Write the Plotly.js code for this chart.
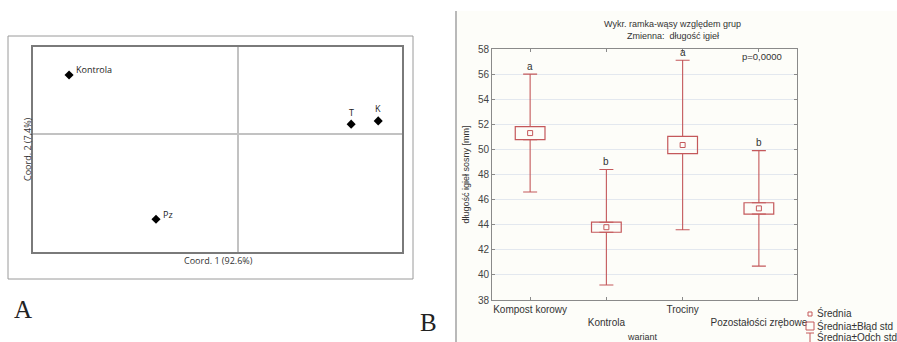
<!DOCTYPE html>
<html>
<head>
<meta charset="utf-8">
<script src="https://cdn.plot.ly/plotly-3.0.1.min.js"></script>
<style>html,body{margin:0;padding:0;background:#fff;}#chart{width:897px;height:342px;}</style>
</head>
<body>
<div id="chart"></div>
<script>
// ---- Panel A data (PCoA) ----
const pcoaLabels = ['Kontrola', 'Pz', 'T', 'K'];
const pcoaX = [-0.206, -0.100, 0.138, 0.171];
const pcoaY = [0.072, -0.104, 0.012, 0.016];
const pcoaXTitle = 'Coord. 1 (92.6%)';
const pcoaYTitle = 'Coord. 2 (7,4%)';

// ---- Panel B data (mean / SE / SD) ----
const groups = ['Kompost korowy', 'Kontrola', 'Trociny', 'Pozostałości zrębowe'];
const means = [51.3, 43.8, 50.35, 45.3];
const stdErr = [0.52, 0.4, 0.68, 0.45];
const stdDev = [4.7, 4.6, 6.75, 4.6];
const letters = ['a', 'b', 'a', 'b'];
const yTicksB = [38, 40, 42, 44, 46, 48, 50, 52, 54, 56, 58];

const W = 897, H = 342;
const px = v => v / W;
const py = v => 1 - v / H;
const RED = '#c4585b';
const sansB = 'Liberation Sans, Arial, sans-serif';
const sansA = 'Open Sans, sans-serif';

const traces = [
  {
    type: 'scatter', mode: 'markers', x: pcoaX, y: pcoaY, xaxis: 'x', yaxis: 'y',
    marker: {symbol: 'diamond', size: 7, color: '#000'}, hoverinfo: 'skip'
  },
  {
    type: 'bar', x: groups, y: stdErr.map(s => 2 * s), base: means.map((m, i) => m - stdErr[i]),
    xaxis: 'x2', yaxis: 'y2', width: 0.39,
    marker: {color: 'rgba(255,255,255,0)', line: {color: RED, width: 1.2}}, hoverinfo: 'skip'
  },
  {
    type: 'scatter', mode: 'markers', x: groups, y: means.map((m, i) => m + stdErr[i]),
    xaxis: 'x2', yaxis: 'y2', marker: {size: 1, color: 'rgba(0,0,0,0)'},
    error_y: {type: 'data', symmetric: false, array: stdDev.map((s, i) => s - stdErr[i]),
      arrayminus: stdDev.map(() => 0), width: 7, thickness: 1.1, color: RED}, hoverinfo: 'skip'
  },
  {
    type: 'scatter', mode: 'markers', x: groups, y: means.map((m, i) => m - stdErr[i]),
    xaxis: 'x2', yaxis: 'y2', marker: {size: 1, color: 'rgba(0,0,0,0)'},
    error_y: {type: 'data', symmetric: false, array: stdDev.map(() => 0),
      arrayminus: stdDev.map((s, i) => s - stdErr[i]), width: 7, thickness: 1.1, color: RED}, hoverinfo: 'skip'
  },
  {
    type: 'scatter', mode: 'markers', x: groups, y: means, xaxis: 'x2', yaxis: 'y2',
    marker: {symbol: 'square-open', size: 5, color: RED, line: {width: 1, color: RED}}, hoverinfo: 'skip'
  }
];

const annotations = [];
// point labels panel A
pcoaLabels.forEach((lab, i) => {
  const side = pcoaX[i] > 0.1;
  annotations.push({
    x: pcoaX[i], y: pcoaY[i], xref: 'x', yref: 'y', text: lab, showarrow: false,
    xanchor: side ? 'center' : 'left', yanchor: 'middle',
    xshift: side ? 0 : 5, yshift: side ? 12 : 5,
    font: {family: sansA, size: 9, color: '#222'}
  });
});
// axis titles panel A
annotations.push({x: px(218), y: py(260), xref: 'paper', yref: 'paper', text: pcoaXTitle, showarrow: false,
  xanchor: 'center', yanchor: 'middle', font: {family: sansA, size: 9, color: '#333'}});
annotations.push({x: px(28), y: py(149), xref: 'paper', yref: 'paper', text: pcoaYTitle, showarrow: false,
  textangle: -90, xanchor: 'center', yanchor: 'middle', font: {family: sansA, size: 9, color: '#333'}});
// group letters panel B
letters.forEach((l, i) => {
  annotations.push({
    x: groups[i], y: means[i] + stdDev[i], xref: 'x2', yref: 'y2', text: l, showarrow: false,
    yanchor: 'middle', yshift: 8, font: {family: sansB, size: 10, color: '#333'}
  });
});
// titles B
annotations.push({x: px(672), y: py(24), xref: 'paper', yref: 'paper', text: 'Wykr. ramka-wąsy względem grup',
  showarrow: false, xanchor: 'center', yanchor: 'middle', font: {family: sansB, size: 9, color: '#333'}});
annotations.push({x: px(673), y: py(36), xref: 'paper', yref: 'paper', text: 'Zmienna:  długość igieł',
  showarrow: false, xanchor: 'center', yanchor: 'middle', font: {family: sansB, size: 9, color: '#333'}});
annotations.push({x: px(784), y: py(57), xref: 'paper', yref: 'paper', text: 'p=0,0000',
  showarrow: false, xanchor: 'right', yanchor: 'middle', font: {family: sansB, size: 9.5, color: '#333'}});
annotations.push({x: px(642), y: py(337), xref: 'paper', yref: 'paper', text: 'wariant',
  showarrow: false, xanchor: 'center', yanchor: 'middle', font: {family: sansB, size: 9, color: '#333'}});
// legend B
const legTexts = ['Średnia', 'Średnia±Błąd std', 'Średnia±Odch std'];
const legY = [313, 326, 337];
legTexts.forEach((t, i) => annotations.push({x: px(815), y: py(legY[i]), xref: 'paper', yref: 'paper', text: t,
  showarrow: false, xanchor: 'left', yanchor: 'middle', font: {family: sansB, size: 10, color: '#333'}}));
// panel letters
annotations.push({x: px(23), y: py(309), xref: 'paper', yref: 'paper', text: 'A', showarrow: false,
  xanchor: 'center', yanchor: 'middle', font: {family: 'Liberation Serif, DejaVu Serif, serif', size: 25, color: '#222'}});
annotations.push({x: px(428), y: py(322), xref: 'paper', yref: 'paper', text: 'B', showarrow: false,
  xanchor: 'center', yanchor: 'middle', font: {family: 'Liberation Serif, DejaVu Serif, serif', size: 25, color: '#222'}});

const shapes = [
  {type: 'rect', xref: 'paper', yref: 'paper', x0: px(457), x1: 1, y0: 0, y1: py(11), layer: 'below',
    line: {width: 0}, fillcolor: '#fdfdf9'},
  {type: 'rect', xref: 'paper', yref: 'paper', x0: px(8), x1: px(413), y0: py(279), y1: py(36),
    line: {color: '#9a9a9a', width: 1}},
  {type: 'line', xref: 'paper', yref: 'paper', x0: px(456), x1: px(456), y0: 0, y1: py(11),
    line: {color: '#8a8a8a', width: 1.2}},
  // legend icons
  {type: 'rect', xref: 'paper', yref: 'paper', x0: px(808), x1: px(812), y0: py(316), y1: py(312),
    line: {color: RED, width: 1}},
  {type: 'rect', xref: 'paper', yref: 'paper', x0: px(806), x1: px(814), y0: py(330), y1: py(322),
    line: {color: RED, width: 1}},
  {type: 'line', xref: 'paper', yref: 'paper', x0: px(806), x1: px(814), y0: py(333), y1: py(333),
    line: {color: RED, width: 1}},
  {type: 'line', xref: 'paper', yref: 'paper', x0: px(810), x1: px(810), y0: py(333), y1: py(342),
    line: {color: RED, width: 1}}
];

const layout = {
  width: W, height: H, margin: {l: 0, r: 0, t: 0, b: 0},
  paper_bgcolor: '#fff', plot_bgcolor: '#fff', showlegend: false,
  xaxis: {
    domain: [px(33), px(402)], range: [-0.25, 0.2], anchor: 'y',
    showticklabels: false, ticks: '', showgrid: false,
    zeroline: true, zerolinecolor: '#c2c2c2', zerolinewidth: 1.2,
    showline: true, mirror: true, linecolor: '#7a7a7a', linewidth: 2
  },
  yaxis: {
    domain: [py(252), py(47)], range: [-0.1439, 0.1061], anchor: 'x',
    showticklabels: false, ticks: '', showgrid: false,
    zeroline: true, zerolinecolor: '#c2c2c2', zerolinewidth: 1.2,
    showline: true, mirror: true, linecolor: '#7a7a7a', linewidth: 2
  },
  xaxis2: {
    domain: [px(492), px(797)], anchor: 'y2', type: 'category', range: [-0.5, 3.5],
    tickvals: groups, ticktext: groups.map((g, i) => i % 2 ? '<br>' + g : g),
    showgrid: false, zeroline: false, showline: true, mirror: 'allticks', linecolor: '#8a8a8a', linewidth: 1,
    ticks: 'inside', ticklen: 3, tickcolor: '#8a8a8a',
    tickfont: {family: sansB, size: 10, color: '#333'}
  },
  yaxis2: {
    domain: [py(300), py(49)], anchor: 'x2', range: [38, 58], tickvals: yTicksB,
    showgrid: true, gridcolor: '#e3e8ef', gridwidth: 1, zeroline: false,
    showline: true, mirror: 'allticks', linecolor: '#8a8a8a', linewidth: 1,
    ticks: 'inside', ticklen: 3, tickcolor: '#8a8a8a',
    tickfont: {family: sansB, size: 10, color: '#444'},
    title: {text: 'długość igieł sosny [mm]', standoff: 6, font: {family: sansB, size: 9, color: '#333'}}
  },
  annotations: annotations,
  shapes: shapes
};

Plotly.newPlot('chart', traces, layout, {staticPlot: true, displayModeBar: false});
</script>
</body>
</html>
